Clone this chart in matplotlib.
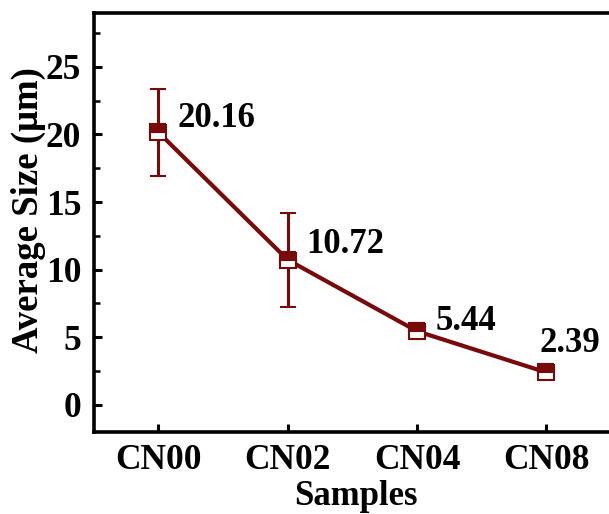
import matplotlib
matplotlib.use("Agg")
import matplotlib.pyplot as plt
from matplotlib.ticker import MultipleLocator

samples = ["CN00", "CN02", "CN04", "CN08"]
avg_size = [20.16, 10.72, 5.44, 2.39]
size_err = [3.2, 3.5, 0.6, 0.3]
labels = ["20.16", "10.72", "5.44", "2.39"]
label_offsets = [(14, 10), (13, 11), (13, 7), (-5, 21)]

RED = "#7a0a0a"

plt.rcParams["font.family"] = ["Liberation Serif", "DejaVu Serif"]
plt.rcParams["font.weight"] = "bold"

fig = plt.figure(figsize=(6.09, 5.14), dpi=100)
ax = fig.add_axes([0.154, 0.16, 0.86, 0.815])

x = list(range(len(samples)))
ax.errorbar(x, avg_size, yerr=size_err, color=RED, lw=3.0, elinewidth=2.2,
            capsize=6, capthick=2.2, marker="s", markersize=11,
            fillstyle="top", markerfacecolor=RED, markerfacecoloralt="white",
            markeredgecolor=RED, markeredgewidth=1.5, zorder=3)

for xi, yi, txt, off in zip(x, avg_size, labels, label_offsets):
    ax.annotate(txt, (xi, yi), xytext=off, textcoords="offset points",
                fontsize=25, fontweight="bold", ha="left", va="center")

ax.set_xlim(-0.5, 3.55)
ax.set_ylim(-2, 29)
ax.set_xticks(x)
ax.set_xticklabels(samples)
ax.yaxis.set_major_locator(MultipleLocator(5))
ax.yaxis.set_minor_locator(MultipleLocator(2.5))
ax.set_yticks([0, 5, 10, 15, 20, 25])

ax.tick_params(axis="both", which="major", direction="in", length=6, width=2.2,
               labelsize=25.5)
ax.tick_params(axis="x", which="major", pad=9)
ax.tick_params(axis="y", which="major", pad=9)
ax.tick_params(axis="y", which="minor", direction="in", length=4, width=1.8)
ax.tick_params(top=False, right=False)
for lab in ax.get_xticklabels() + ax.get_yticklabels():
    lab.set_fontweight("bold")

for sp in ax.spines.values():
    sp.set_linewidth(2.6)

ax.set_xlabel("Samples", fontsize=25, fontweight="bold")
ax.set_ylabel("Average Size (μm)", fontsize=26.5, fontweight="bold")
ax.xaxis.set_label_coords(0.5, -0.115)
ax.yaxis.set_label_coords(-0.092, 0.53)

fig.savefig("out.png", dpi=100)
